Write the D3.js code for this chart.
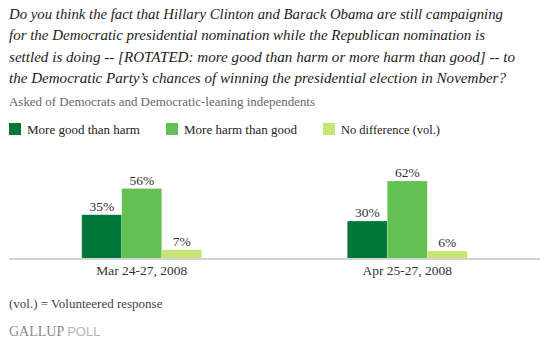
<!DOCTYPE html>
<html>
<head>
<meta charset="utf-8">
<script src="https://cdn.jsdelivr.net/npm/d3@7"></script>
<style>
  body { margin: 0; background: #fff; }
  svg { display: block; }
</style>
</head>
<body>
<div id="chart"></div>
<script>
const titleLines = [
    "Do you think the fact that Hillary Clinton and Barack Obama are still campaigning",
    "for the Democratic presidential nomination while the Republican nomination is",
    "settled is doing -- [ROTATED: more good than harm or more harm than good] -- to",
    "the Democratic Party\u2019s chances of winning the presidential election in November?"
];
const subtitle = "Asked of Democrats and Democratic-leaning independents";
const dates = ["Mar 24-27, 2008", "Apr 25-27, 2008"];
const seriesNames = ["More good than harm", "More harm than good", "No difference (vol.)"];
const goodValues = [35, 30];
const harmValues = [56, 62];
const noDiffValues = [7, 6];
const colors = ["#00783a", "#62c152", "#c6e674"];

const width = 546, height = 351;
const serif = "'Liberation Serif', 'DejaVu Serif', serif";

const svg = d3.select('#chart').append('svg')
    .attr('width', width)
    .attr('height', height);

// title
svg.append('g').selectAll('text')
    .data(titleLines)
    .enter().append('text')
    .attr('x', 9)
    .attr('y', (d, i) => 19 + i * 21.3)
    .attr('textLength', (d, i) => [494, 476, 506, 497][i])
    .attr('lengthAdjust', 'spacingAndGlyphs')
    .style('font-family', serif)
    .style('font-style', 'italic')
    .style('font-size', '15.5px')
    .style('fill', '#222')
    .text(d => d);

svg.append('text')
    .attr('x', 9)
    .attr('y', 106)
    .attr('textLength', 306)
    .attr('lengthAdjust', 'spacingAndGlyphs')
    .style('font-family', serif)
    .style('font-size', '13px')
    .style('fill', '#666')
    .text(subtitle);

// legend
const legendX = [9, 166, 323];
const legendW = [113, 113, 99];
const legend = svg.append('g').selectAll('g')
    .data(seriesNames)
    .enter().append('g')
    .attr('transform', (d, i) => `translate(${legendX[i]},123)`);
legend.append('rect')
    .attr('width', 12)
    .attr('height', 12)
    .style('fill', (d, i) => colors[i]);
legend.append('text')
    .attr('x', 18)
    .attr('y', 10.5)
    .attr('textLength', (d, i) => legendW[i])
    .attr('lengthAdjust', 'spacingAndGlyphs')
    .style('font-family', serif)
    .style('font-size', '13px')
    .style('fill', '#222')
    .text(d => d);

// bars
const rows = dates.map((d, i) => ({
    date: d,
    values: [goodValues[i], harmValues[i], noDiffValues[i]]
}));

const baseY = 258.5;
const x0 = d3.scaleBand().domain(dates).range([9, 540]);
const x1 = d3.scaleBand().domain(d3.range(3)).range([0, 120]);
const y = d3.scaleLinear().domain([0, 100]).range([baseY, baseY - 125]);

const groups = svg.append('g').selectAll('g')
    .data(rows)
    .enter().append('g')
    .attr('transform', d => `translate(${x0(d.date) + x0.bandwidth() / 2 - 60},0)`);

groups.selectAll('rect')
    .data(d => d.values)
    .enter().append('rect')
    .attr('x', (d, i) => x1(i))
    .attr('y', d => y(d))
    .attr('width', x1.bandwidth())
    .attr('height', d => baseY - y(d))
    .style('fill', (d, i) => colors[i])
    .style('stroke', '#ffffff')
    .style('stroke-opacity', 0.35)
    .style('stroke-width', 0.6);

groups.selectAll('text')
    .data(d => d.values)
    .enter().append('text')
    .attr('x', (d, i) => x1(i) + x1.bandwidth() / 2)
    .attr('y', d => y(d) - 4)
    .attr('text-anchor', 'middle')
    .style('font-family', serif)
    .style('font-size', '13.5px')
    .style('fill', '#333')
    .text(d => d + '%');

// baseline
svg.append('line')
    .attr('x1', 9).attr('x2', 540)
    .attr('y1', baseY + 0.5).attr('y2', baseY + 0.5)
    .style('stroke', '#d3d3cf')
    .style('stroke-width', 2);

// category axis
const axis = svg.append('g')
    .attr('transform', `translate(0,${baseY + 1})`)
    .call(d3.axisBottom(x0).tickSize(0).tickPadding(6));
axis.select('.domain').remove();
axis.selectAll('text')
    .style('font-family', serif)
    .style('font-size', '13.5px')
    .style('fill', '#333');

// footnote
svg.append('text')
    .attr('x', 9)
    .attr('y', 308)
    .style('font-family', serif)
    .style('font-size', '13px')
    .style('fill', '#444')
    .text('(vol.) = Volunteered response');

const brand = svg.append('text')
    .attr('x', 9)
    .attr('y', 336)
    .style('font-size', '14px');
brand.append('tspan')
    .style('font-family', serif)
    .style('fill', '#8a8a8a')
    .text('GALLUP ');
brand.append('tspan')
    .style('font-family', "'Liberation Sans', Arial, sans-serif")
    .style('font-size', '13px')
    .style('fill', '#b5b5b5')
    .text('POLL');
</script>
</body>
</html>
